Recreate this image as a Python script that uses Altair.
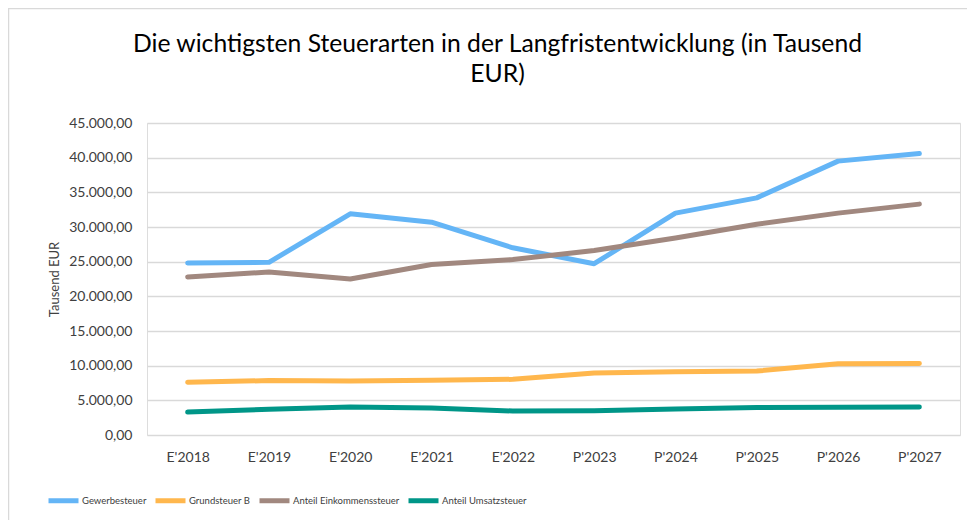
import altair as alt
import pandas as pd

years = ["E'2018", "E'2019", "E'2020", "E'2021", "E'2022",
         "P'2023", "P'2024", "P'2025", "P'2026", "P'2027"]
series_names = ["Gewerbesteuer", "Grundsteuer B",
                "Anteil Einkommenssteuer", "Anteil Umsatzsteuer"]
gewerbesteuer = [24800, 24900, 31900, 30700, 27000, 24700, 32000, 34200, 39500, 40600]
grundsteuer_b = [7600, 7850, 7780, 7880, 8030, 8930, 9130, 9220, 10290, 10330]
einkommenssteuer = [22800, 23500, 22500, 24600, 25300, 26600, 28400, 30400, 32000, 33300]
umsatzsteuer = [3310, 3700, 4030, 3900, 3460, 3500, 3750, 3950, 4000, 4030]
colors = ["#64B5F6", "#FFB74D", "#A1887F", "#009688"]

rows = []
for name, vals in zip(series_names,
                      [gewerbesteuer, grundsteuer_b, einkommenssteuer, umsatzsteuer]):
    for y, v in zip(years, vals):
        rows.append({"Jahr": y, "Wert": v, "Serie": name})
df = pd.DataFrame(rows)

FONT = "Lato"

lines = alt.Chart(df).mark_line(strokeWidth=5, strokeCap="round", strokeJoin="round").encode(
    x=alt.X("Jahr:N", sort=years, title=None,
            axis=alt.Axis(labelAngle=0, labelFont=FONT, labelFontSize=14, labelColor="#404040",
                          domain=False, ticks=False, grid=False, labelPadding=15)),
    y=alt.Y("Wert:Q", scale=alt.Scale(domain=[0, 45000]), title="Tausend EUR",
            axis=alt.Axis(values=list(range(0, 45001, 5000)), labelFont=FONT, labelFontSize=14,
                          labelColor="#404040", domain=False, ticks=False,
                          gridColor="#d9d9d9", gridWidth=1.3, labelPadding=15,
                          titleFont=FONT, titleFontSize=13, titleFontWeight="normal",
                          titleColor="#404040", titlePadding=7,
                          labelExpr="replace(replace(replace(format(datum.value, ',.2f'), ',', '_'), '.', ','), '_', '.')")),
    color=alt.Color("Serie:N", sort=series_names,
                    scale=alt.Scale(domain=series_names, range=colors),
                    legend=alt.Legend(orient="none", legendX=-101, legendY=360,
                                      direction="horizontal", columns=4, title=None,
                                      symbolType="stroke", symbolSize=900, symbolStrokeWidth=5,
                                      labelFont=FONT, labelFontSize=9.5, labelColor="#404040",
                                      columnPadding=-2, labelOffset=1)),
    order=alt.Order("Serie:N")
)

edge = pd.DataFrame({"a": [0]})
left_edge = alt.Chart(edge).mark_rule(stroke="#d9d9d9", strokeWidth=1.5, clip=False).encode(
    x=alt.value(-138.5), y=alt.value(-115), y2=alt.value(420))
top_edge = alt.Chart(edge).mark_rule(stroke="#d9d9d9", strokeWidth=1.5, clip=False).encode(
    x=alt.value(-139), x2=alt.value(840), y=alt.value(-114.5))

chart = alt.layer(left_edge, top_edge, lines).properties(
    width=813, height=312,
    autosize=alt.AutoSizeParams(type="none"),
    padding={"left": 139, "top": 115, "right": 7, "bottom": 85},
    title=alt.TitleParams(
        text=["Die wichtigsten Steuerarten in der Langfristentwicklung (in Tausend", "EUR)"],
        font=FONT, fontSize=24.7, fontWeight="normal", color="#000000",
        anchor="middle", dx=-56, offset=-79.5, lineHeight=30)
).configure_view(stroke=None).configure(background="white")

chart.save("out.html", embed_options={"renderer": "svg", "actions": False})
